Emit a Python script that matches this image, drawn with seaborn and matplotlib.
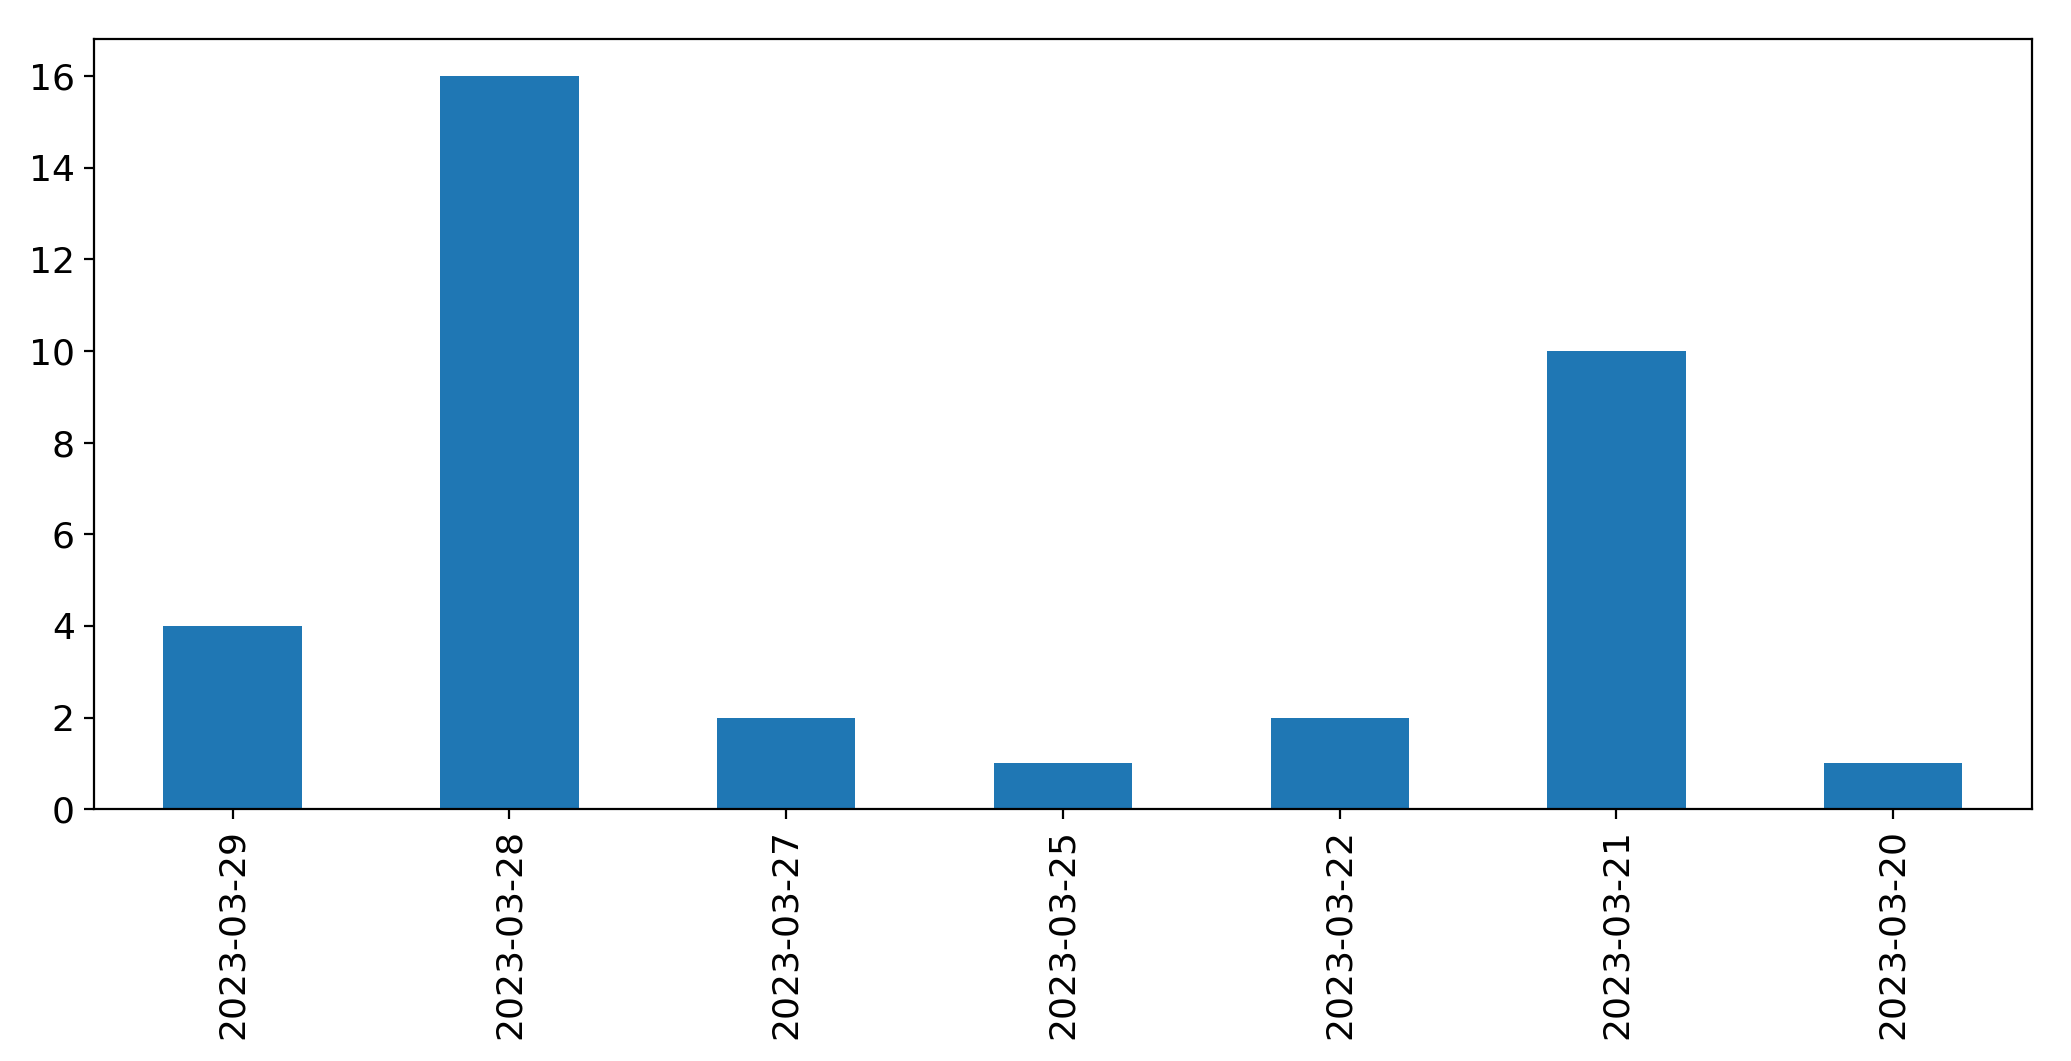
import pandas as pd
import numpy as np
import matplotlib
matplotlib.use("Agg")
import matplotlib.pyplot as plt
import seaborn as sns

dates = ["2023-03-29", "2023-03-28", "2023-03-27", "2023-03-25",
         "2023-03-22", "2023-03-21", "2023-03-20"]
counts = [4, 16, 2, 1, 2, 10, 1]

df = pd.DataFrame({"date": dates, "count": counts})

plt.rcParams["font.size"] = 13

fig = plt.figure(figsize=(10.355, 5.305), dpi=200)
ax = fig.add_axes([0.0455, 0.2372, 0.9355, 0.7258])

sns.barplot(data=df, x="date", y="count", color="#1f77b4",
            saturation=1, width=0.5, ax=ax)

ax.set_xlim(-0.5, len(dates) - 0.5)
ax.set_ylim(0, max(counts) * 1.05)
ax.set_xlabel("")
ax.set_ylabel("")
ax.tick_params(axis="x", labelrotation=90)

fig.savefig("out.png", dpi=200)
